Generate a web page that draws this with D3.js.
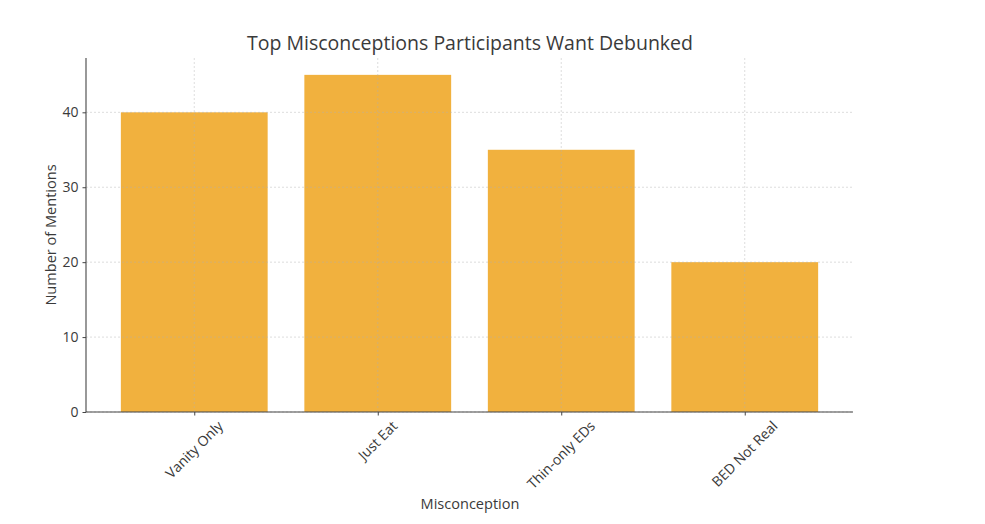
<!DOCTYPE html>
<html><head><meta charset="utf-8">
<script src="https://cdn.jsdelivr.net/npm/d3@7"></script>
<style>body{margin:0;background:#fff}svg{display:block}text{font-family:"Open Sans",sans-serif;fill:#3a3a3a}</style>
</head><body><svg id="c" width="985" height="524"></svg>
<script>
const categories = ["Vanity Only","Just Eat","Thin-only EDs","BED Not Real"];
const mentions = [40,45,35,20];
const yTicks = [0,10,20,30,40];
const title = "Top Misconceptions Participants Want Debunked";
const xLabel = "Misconception";
const yLabel = "Number of Mentions";

const FONT = "Open Sans";
const svg = d3.select("#c");
const L=86, R=853, T=58, B=412;
const x = d3.scaleLinear().domain([-0.59, 3.59]).range([L,R]);
const y = d3.scaleLinear().domain([0,47.25]).range([B,T]);
const bw = x(0.8)-x(0);

// bars
svg.selectAll("rect.bar").data(mentions).join("rect")
  .attr("x",(d,i)=>x(i)-bw/2).attr("width",bw)
  .attr("y",d=>y(d)).attr("height",d=>B-y(d))
  .attr("fill","#F1B13E");

// grid
const g = svg.append("g").attr("stroke","#b0b0b0").attr("stroke-opacity",0.55).attr("stroke-dasharray","2,2").attr("stroke-width",0.8);
yTicks.forEach(t=>g.append("line").attr("x1",L).attr("x2",R).attr("y1",y(t)).attr("y2",y(t)));
categories.forEach((c,i)=>g.append("line").attr("x1",x(i)).attr("x2",x(i)).attr("y1",T).attr("y2",B));

// axes
const ax = svg.append("g").attr("transform",`translate(0,${B})`)
  .call(d3.axisBottom(x).tickValues(d3.range(categories.length)).tickFormat("").tickSize(3.5));
const ay = svg.append("g").attr("transform",`translate(${L},0)`)
  .call(d3.axisLeft(y).tickValues(yTicks).tickSize(3.5).tickPadding(4));
[ax,ay].forEach(a=>{a.select(".domain").attr("stroke","#444").attr("stroke-width",1.1);
  a.selectAll(".tick line").attr("stroke","#444");
  a.selectAll("text").attr("font-family",FONT).attr("font-size",14).attr("fill","#3a3a3a");});
ax.select(".domain").attr("d",`M${L},0H${R}`);
ay.select(".domain").attr("d",`M0,${B}V${T}`);

function fitText(t, target){
  const w = t.node().getComputedTextLength();
  const fs = +t.attr("font-size");
  t.attr("font-size", fs*target/w);
}

// rotated category labels
categories.forEach((c,i)=>{
  const t = svg.append("text").text(c).attr("font-size",14).attr("text-anchor","middle");
  const w = t.node().getComputedTextLength();
  const h = 14;
  const half = (w*Math.SQRT1_2 + h*Math.SQRT1_2)/2;
  const cy = B + 3.5 + 3 + half;
  t.attr("transform",`translate(${x(i)},${cy}) rotate(-45)`).attr("dy","0.35em");
});

const tt = svg.append("text").text(title).attr("x",470).attr("y",50).attr("text-anchor","middle").attr("font-size",18);
fitText(tt, 446);
const xl = svg.append("text").text(xLabel).attr("x",470).attr("y",509).attr("text-anchor","middle").attr("font-size",14);
fitText(xl, 99);
svg.append("text").text(yLabel).attr("transform",`translate(56,${(T+B)/2}) rotate(-90)`).attr("text-anchor","middle").attr("font-size",+xl.attr("font-size"));
</script></body></html>
